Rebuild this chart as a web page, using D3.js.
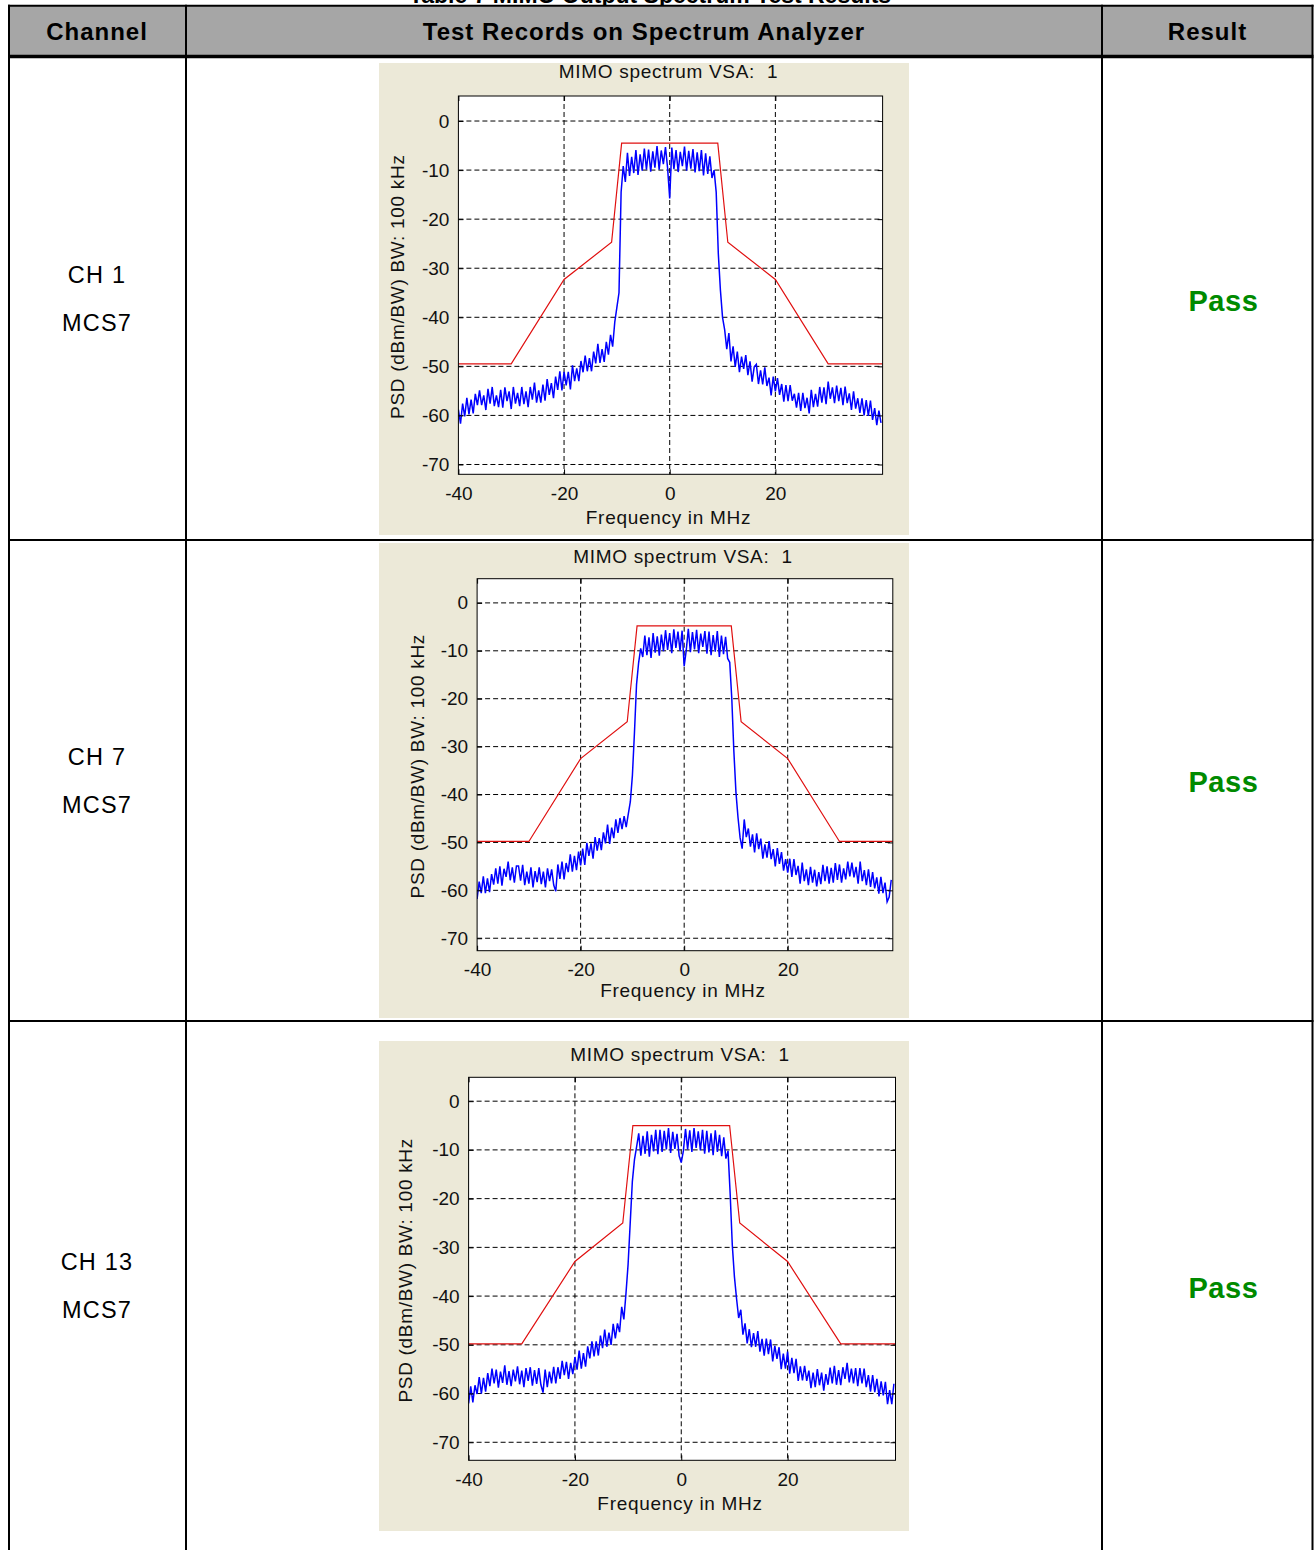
<!DOCTYPE html>
<html>
<head>
<meta charset="utf-8">
<script src="https://cdn.jsdelivr.net/npm/d3@7"></script>
<style>
  body { margin: 0; background: #fff; }
  svg text { font-family: "Liberation Sans", Arial, sans-serif; }
  .caption { font-weight: bold; font-size: 23px; fill: #000; }
  .hdr { font-weight: bold; font-size: 24px; letter-spacing: 1px; fill: #000; }
  .cell { font-size: 23.5px; letter-spacing: 1.2px; fill: #000; }
  .pass { font-weight: bold; font-size: 29px; letter-spacing: 0.6px; fill: #008a00; }
  .plotText { font-size: 19px; letter-spacing: 0.7px; fill: #111; }
  .grid { stroke: #000; stroke-width: 1; stroke-dasharray: 5,3; }
  .trace { fill: none; stroke: #0000ff; stroke-width: 1.5; stroke-linejoin: miter; }
  .mask { fill: none; stroke: #e01010; stroke-width: 1.2; }
</style>
</head>
<body>
<div id="chart"></div>
<script>

// ---- data ----
var columns  = ["Channel", "Test Records on Spectrum Analyzer", "Result"];
var channels = ["CH 1", "CH 7", "CH 13"];
var rates    = ["MCS7", "MCS7", "MCS7"];
var results  = ["Pass", "Pass", "Pass"];

var xTicks = [-40, -20, 0, 20];
var yTicks = [0, -10, -20, -30, -40, -50, -60, -70];
var xLim   = [-40, 40.3];
var yLims  = [[-72, 5.1], [-72.6, 5.05], [-73.7, 4.9]];

// sample grid of the analyzer trace (0.4 MHz steps, -40 .. 40 MHz)
var freqMHz = d3.range(201).map(i => -40 + i * 0.4);

var psdCh1 = [
  -58.8, -61.7, -57.6, -60.2, -56.4, -59.8, -56.8, -59.6, -55.6, -57.9,
  -54.9, -57.9, -55.9, -58.9, -54.6, -57.6, -54.2, -58.1, -55.9, -58.3,
  -54.8, -58.4, -54.3, -57.1, -55.1, -58.7, -54.2, -57.6, -55.4, -58.1,
  -54.2, -57.7, -55.1, -58.3, -54.2, -56.8, -53.3, -57.4, -54.9, -57.4,
  -53.7, -57.0, -52.6, -55.8, -53.4, -56.5, -52.1, -54.8, -51.0, -54.9,
  -51.1, -53.9, -51.1, -54.7, -49.8, -53.0, -50.4, -53.0, -48.9, -51.2,
  -47.8, -51.0, -48.3, -51.0, -47.0, -49.4, -45.4, -49.3, -46.5, -49.1,
  -45.0, -47.6, -43.6, -46.0, -41.0, -38.0, -35.0, -14.5, -9.2, -12.4,
  -6.5, -11.2, -7.3, -10.6, -5.9, -11.0, -6.8, -10.1, -5.6, -9.9,
  -5.8, -10.3, -6.2, -9.5, -5.1, -9.9, -6.0, -8.8, -5.3, -9.6,
  -15.8,
  -5.4, -9.8, -5.9, -10.4, -6.3, -9.2, -5.2, -10.1, -6.1, -9.7,
  -5.7, -10.5, -6.4, -10.2, -5.9, -11.1, -6.6, -10.8, -7.2, -11.6,
  -10.0, -14.5, -27.0, -34.5, -40.0, -42.5, -46.5, -43.2, -49.0, -45.9,
  -50.1, -47.0, -51.2, -48.0, -50.5, -47.7, -51.8, -49.0, -53.1, -50.1,
  -49.6, -53.6, -50.8, -53.7, -50.2, -54.0, -52.3, -55.9, -52.1, -55.1,
  -52.4, -55.8, -53.6, -57.2, -53.8, -57.1, -53.8, -57.0, -55.6, -58.4,
  -55.4, -59.1, -55.4, -58.5, -56.4, -59.6, -54.8, -58.3, -55.6, -58.2,
  -54.2, -57.4, -54.3, -57.7, -53.1, -56.6, -54.3, -57.5, -53.9, -57.1,
  -54.4, -57.9, -54.1, -57.5, -55.5, -58.9, -55.1, -58.6, -56.5, -59.5,
  -56.5, -60.0, -56.9, -60.1, -57.0, -60.9, -58.5, -62.0, -59.0, -61.5
];

var psdCh7 = [
  -61.8, -58.2, -60.6, -57.1, -60.6, -57.5, -60.4, -56.6, -58.8, -55.4,
  -58.6, -55.0, -59.0, -55.5, -57.2, -54.0, -57.9, -55.2, -58.4, -54.9,
  -54.9, -58.0, -54.7, -58.9, -56.1, -58.6, -55.2, -59.4, -56.0, -58.3,
  -55.2, -58.7, -56.1, -59.4, -55.4, -58.1, -55.6, -58.9, -60.2, -54.6,
  -57.6, -54.0, -57.7, -54.3, -56.2, -52.5, -56.1, -52.8, -55.8, -51.9,
  -54.8, -51.3, -54.7, -50.1, -52.8, -50.2, -53.4, -48.9, -51.7, -49.1,
  -51.6, -47.9, -50.2, -46.3, -50.3, -46.9, -49.1, -45.2, -48.0, -44.9,
  -47.2, -44.5, -46.8, -44.1, -41.5, -36.0, -27.0, -17.0, -12.5, -9.5,
  -11.3, -6.8, -10.9, -7.2, -11.5, -6.3, -10.4, -7.0, -11.0, -6.6,
  -10.1, -5.7, -9.8, -6.3, -10.5, -5.5, -9.4, -6.0, -10.0, -5.8,
  -13.2,
  -9.9, -5.4, -10.3, -6.1, -9.7, -5.6, -10.5, -6.4, -9.2, -5.9,
  -10.6, -6.0, -10.9, -6.7, -10.2, -5.9, -11.3, -6.8, -10.7, -7.1,
  -11.6, -12.4, -20.0, -31.0, -39.5, -44.8, -49.0, -51.3, -45.2, -48.9,
  -47.1, -50.9, -48.3, -52.1, -48.1, -51.4, -49.2, -53.4, -50.4, -53.2,
  -49.7, -53.5, -51.4, -55.0, -51.2, -54.5, -52.0, -55.9, -53.5, -56.3,
  -53.4, -57.2, -53.5, -56.8, -54.9, -58.6, -54.2, -58.1, -55.6, -58.9,
  -55.1, -58.4, -55.7, -59.2, -56.2, -58.7, -54.7, -58.1, -55.0, -58.6,
  -55.3, -58.4, -54.3, -57.8, -54.6, -58.4, -55.4, -57.7, -54.0, -57.1,
  -54.2, -57.3, -55.1, -58.6, -54.0, -58.1, -55.8, -58.9, -55.6, -59.3,
  -56.2, -59.6, -57.3, -60.7, -57.2, -60.6, -58.4, -62.4, -61.4, -57.8
];

var psdCh13 = [
  -62.0, -58.5, -61.8, -58.3, -60.1, -56.6, -60.0, -56.8, -59.6, -55.8,
  -58.5, -54.9, -57.9, -55.1, -58.8, -55.5, -57.8, -54.2, -58.2, -55.4,
  -58.5, -55.1, -57.5, -54.4, -58.1, -55.3, -58.7, -54.8, -57.4, -54.6,
  -58.4, -55.2, -58.0, -54.8, -58.2, -59.8, -55.1, -58.7, -55.5, -57.9,
  -54.5, -57.9, -54.6, -57.0, -53.3, -56.2, -53.5, -57.0, -53.7, -56.0,
  -52.5, -55.1, -51.2, -54.9, -51.7, -54.5, -50.3, -52.8, -49.3, -52.4,
  -49.3, -52.2, -48.1, -50.7, -46.9, -50.4, -47.5, -50.0, -45.7, -48.7,
  -45.6, -47.4, -42.2, -44.8, -39.5, -33.5, -25.0, -16.5, -12.0, -9.4,
  -6.6, -11.2, -7.1, -10.8, -6.2, -11.4, -6.9, -10.3, -5.9, -10.9,
  -5.9, -10.4, -6.1, -9.9, -5.5, -10.6, -6.3, -9.8, -6.7, -11.2,
  -12.6,
  -10.2, -5.7, -9.9, -6.0, -10.4, -5.5, -9.6, -6.2, -10.1, -5.9,
  -10.8, -6.1, -10.5, -6.6, -11.1, -6.0, -10.4, -6.9, -11.3, -7.4,
  -11.8, -10.2, -19.0, -29.5, -36.0, -40.5, -44.5, -42.8, -47.9, -45.6,
  -49.7, -46.8, -50.5, -47.6, -50.4, -47.2, -51.4, -48.8, -52.2, -48.7,
  -51.9, -48.9, -53.4, -50.2, -52.9, -50.5, -55.0, -51.8, -54.9, -51.4,
  -55.9, -52.7, -55.8, -52.9, -57.4, -54.4, -57.3, -54.3, -57.4, -55.3,
  -58.9, -55.7, -58.7, -55.0, -58.3, -55.7, -59.4, -56.0, -58.2, -54.7,
  -57.9, -54.3, -58.2, -55.2, -58.3, -54.6, -57.0, -53.7, -57.7, -54.9,
  -57.9, -54.8, -58.5, -54.8, -57.9, -54.9, -58.7, -56.2, -59.6, -56.2,
  -59.7, -57.0, -60.6, -57.5, -60.4, -57.6, -62.2, -59.3, -62.2, -58.0
];

// spectral mask (red) corner points
var maskFreq = [-40, -30, -20, -11, -9.1, 9.1, 11, 20, 30, 40.3];
var maskCh1  = [-49.5, -49.5, -32.3, -24.7, -4.5, -4.5, -24.7, -32.3, -49.5, -49.5];
var maskCh7  = [-49.8, -49.8, -32.5, -24.8, -4.8, -4.8, -24.8, -32.5, -49.8, -49.8];
var maskCh13 = [-49.8, -49.8, -32.9, -25.0, -5.0, -5.0, -25.0, -32.9, -49.8, -49.8];

// ---- layout ----
var W = 1314, H = 1550;
var colX = [9, 186, 1102, 1312.5];
var rowY = [5.7, 56.5, 540, 1021, H];

var panelLayout = [
  { bg: [379, 63, 909, 535],    box: [458.4, 96, 882.6, 474.3],      title: 78,     xlab: 523.5, ylab: 404 },
  { bg: [379, 543, 909, 1018],  box: [477.1, 578.7, 892.8, 950.7],   title: 562.5,  xlab: 997,   ylab: 424 },
  { bg: [379, 1041, 909, 1531], box: [468.6, 1077.3, 895.5, 1460.3], title: 1060.5, xlab: 1510,  ylab: 412 }
];


var SpectrumPanel = function(opts) {
  this.svg    = opts.svg;
  this.id     = opts.id;
  this.layout = opts.layout;
  this.psd    = opts.psd;
  this.mask   = opts.mask;
  this.yLim   = opts.yLim;

  this.draw();
}

SpectrumPanel.prototype.draw = function() {
  var L = this.layout;
  this.g = this.svg.append("g").attr("class", "panel");

  // figure background (matlab grey-beige)
  this.g.append("rect")
    .attr("x", L.bg[0]).attr("y", L.bg[1])
    .attr("width", L.bg[2] - L.bg[0]).attr("height", L.bg[3] - L.bg[1])
    .attr("fill", "#ece9d8");

  this.g.append("rect")
    .attr("x", L.box[0]).attr("y", L.box[1])
    .attr("width", L.box[2] - L.box[0]).attr("height", L.box[3] - L.box[1])
    .attr("fill", "#fff");

  this.createScales();
  this.addGrid();
  this.addLines();
  this.addAxes();
  this.addLabels();
}

SpectrumPanel.prototype.createScales = function() {
  var L = this.layout;
  this.xScale = d3.scaleLinear().domain(xLim).range([L.box[0], L.box[2]]);
  this.yScale = d3.scaleLinear().domain(this.yLim).range([L.box[3], L.box[1]]);

  this.line = d3.line()
    .x(d => this.xScale(d[0]))
    .y(d => this.yScale(d[1]));
}

SpectrumPanel.prototype.addGrid = function() {
  var _this = this, L = this.layout;

  this.g.selectAll(".gridY")
    .data(yTicks).enter().append("line")
    .attr("class", "grid")
    .attr("x1", L.box[0]).attr("x2", L.box[2])
    .attr("y1", d => _this.yScale(d)).attr("y2", d => _this.yScale(d));

  this.g.selectAll(".gridX")
    .data(xTicks.filter(d => d > xLim[0])).enter().append("line")
    .attr("class", "grid")
    .attr("y1", L.box[1]).attr("y2", L.box[3])
    .attr("x1", d => _this.xScale(d)).attr("x2", d => _this.xScale(d));
}

SpectrumPanel.prototype.addLines = function() {
  var L = this.layout;

  this.svg.append("clipPath").attr("id", "clip" + this.id)
    .append("rect")
    .attr("x", L.box[0]).attr("y", L.box[1])
    .attr("width", L.box[2] - L.box[0]).attr("height", L.box[3] - L.box[1]);

  var plot = this.g.append("g").attr("clip-path", "url(#clip" + this.id + ")");

  plot.append("path")
    .datum(d3.zip(freqMHz, this.psd))
    .attr("class", "trace")
    .attr("d", this.line);

  plot.append("path")
    .datum(d3.zip(maskFreq, this.mask))
    .attr("class", "mask")
    .attr("d", this.line);
}

SpectrumPanel.prototype.addAxes = function() {
  var L = this.layout;
  var fmt = d => String(d);   // plain hyphen minus like the analyzer plot

  var yAxis  = d3.axisLeft(this.yScale).tickValues(yTicks).tickFormat(fmt).tickSize(-5).tickSizeOuter(0).tickPadding(9);
  var yAxis2 = d3.axisRight(this.yScale).tickValues(yTicks).tickFormat("").tickSize(-5).tickSizeOuter(0);
  var xAxis  = d3.axisBottom(this.xScale).tickValues(xTicks).tickFormat(fmt).tickSize(-5).tickSizeOuter(0).tickPadding(12);
  var xAxis2 = d3.axisTop(this.xScale).tickValues(xTicks).tickFormat("").tickSize(-5).tickSizeOuter(0);

  var axes = [
    [yAxis,  "translate(" + L.box[0] + ",0)"],
    [yAxis2, "translate(" + L.box[2] + ",0)"],
    [xAxis,  "translate(0," + L.box[3] + ")"],
    [xAxis2, "translate(0," + L.box[1] + ")"]
  ];

  var _this = this;
  axes.forEach(function(a) {
    var ax = _this.g.append("g")
      .attr("transform", a[1])
      .call(a[0]);
    ax.select(".domain").remove();
    ax.attr("font-size", 19)
      .attr("font-family", "'Liberation Sans', Arial, sans-serif")
      .attr("color", "#000");
    ax.selectAll("text").attr("fill", "#111");
  });

  // axes box
  this.g.append("rect")
    .attr("x", L.box[0]).attr("y", L.box[1])
    .attr("width", L.box[2] - L.box[0]).attr("height", L.box[3] - L.box[1])
    .attr("fill", "none").attr("stroke", "#000").attr("stroke-width", 1);
}

SpectrumPanel.prototype.addLabels = function() {
  var L = this.layout;
  var cx = (L.box[0] + L.box[2]) / 2 - 2;
  var cy = (L.box[1] + L.box[3]) / 2 + 1.5;

  this.g.append("text")
    .attr("class", "plotText")
    .attr("x", cx).attr("y", L.title)
    .attr("text-anchor", "middle")
    .attr("xml:space", "preserve")
    .text("MIMO spectrum VSA:  1");

  this.g.append("text")
    .attr("class", "plotText")
    .attr("x", cx).attr("y", L.xlab)
    .attr("text-anchor", "middle")
    .text("Frequency in MHz");

  this.g.append("text")
    .attr("class", "plotText")
    .attr("transform", "translate(" + L.ylab + "," + cy + ") rotate(-90)")
    .attr("text-anchor", "middle")
    .text("PSD (dBm/BW) BW: 100 kHz");
}


// ---- page ----
var svg = d3.select("#chart").append("svg")
  .attr("width", W)
  .attr("height", H);

// caption of the table (cut off by the top of the page, as in the scan)
svg.append("text")
  .attr("class", "caption")
  .attr("x", 650).attr("y", 3)
  .attr("text-anchor", "middle")
  .text("Table 7   MIMO Output Spectrum Test Results");

// header band
svg.append("rect")
  .attr("x", colX[0]).attr("y", rowY[0])
  .attr("width", colX[3] - colX[0]).attr("height", rowY[1] - rowY[0])
  .attr("fill", "#a6a6a6");

var colCenters = [97, 644, 1207.5];
svg.selectAll(".hdr")
  .data(columns).enter().append("text")
  .attr("class", "hdr")
  .attr("x", (d, i) => colCenters[i]).attr("y", 40)
  .attr("text-anchor", "middle")
  .text(d => d);

// channel + result cells
var rowMid = [275, 757, 1262];
var passMid = [300, 781, 1287];

svg.selectAll(".chan")
  .data(channels).enter().append("text")
  .attr("class", "cell")
  .attr("x", 97).attr("y", (d, i) => rowMid[i] + 8.3)
  .attr("text-anchor", "middle")
  .text(d => d);

svg.selectAll(".rate")
  .data(rates).enter().append("text")
  .attr("class", "cell")
  .attr("x", 97).attr("y", (d, i) => rowMid[i] + 56)
  .attr("text-anchor", "middle")
  .text(d => d);

svg.selectAll(".pass")
  .data(results).enter().append("text")
  .attr("class", "pass")
  .attr("x", 1223.5).attr("y", (d, i) => passMid[i] + 10.5)
  .attr("text-anchor", "middle")
  .text(d => d);

// spectrum plots
var traces = [psdCh1, psdCh7, psdCh13];
var masks  = [maskCh1, maskCh7, maskCh13];
panelLayout.forEach(function(L, i) {
  new SpectrumPanel({
    svg: svg, id: i, layout: L,
    psd: traces[i], mask: masks[i], yLim: yLims[i]
  });
});

// table rules
var rules = svg.append("g").attr("stroke", "#000");
colX.forEach(function(x) {
  rules.append("line")
    .attr("x1", x).attr("x2", x).attr("y1", rowY[0] - 1).attr("y2", H)
    .attr("stroke-width", 2);
});
rules.append("line")
  .attr("x1", colX[0] - 1).attr("x2", colX[3] + 1).attr("y1", rowY[0]).attr("y2", rowY[0])
  .attr("stroke-width", 2);
rules.append("line")
  .attr("x1", colX[0] - 1).attr("x2", colX[3] + 1).attr("y1", rowY[1]).attr("y2", rowY[1])
  .attr("stroke-width", 3.5);
[rowY[2], rowY[3]].forEach(function(y) {
  rules.append("line")
    .attr("x1", colX[0] - 1).attr("x2", colX[3] + 1).attr("y1", y).attr("y2", y)
    .attr("stroke-width", 2);
});

</script>
</body>
</html>
